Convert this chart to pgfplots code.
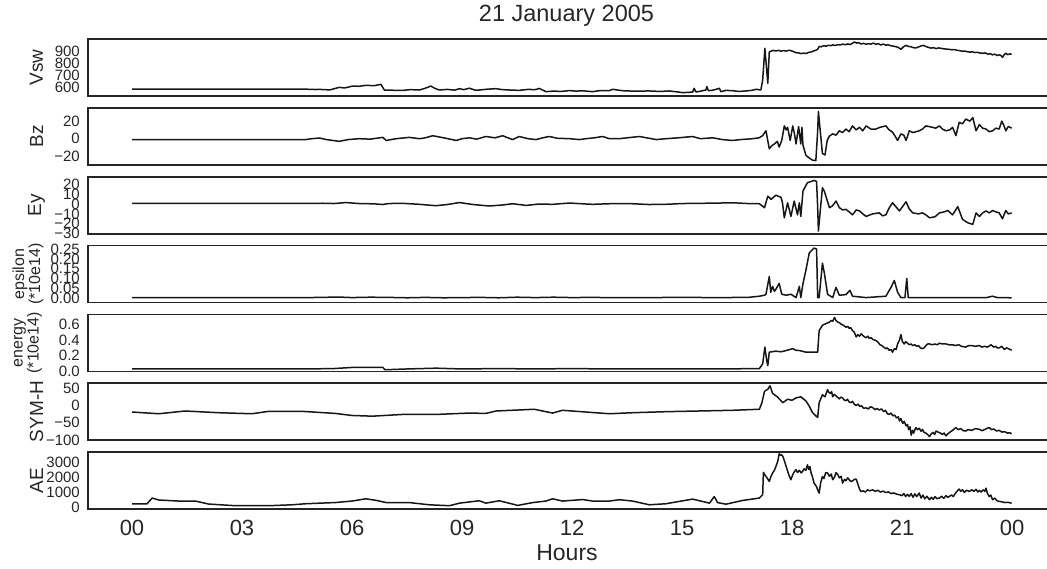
\documentclass[border=0pt]{standalone}
\usepackage{fontspec}
\setmainfont{Liberation Sans}
\usepackage{pgfplots}
\pgfplotsset{compat=1.18}
\definecolor{ink}{RGB}{38,38,38}
\definecolor{linec}{RGB}{22,22,22}

\pgfplotsset{
  panel/.style={
    scale only axis, width=968pt, height=57pt,
    xmin=-1.2, xmax=25.2, anchor=north west,
    axis line style={ink, line width=1.2pt},
    major tick length=0pt, tick style={draw=none},
    xtick={0,3,...,24}, xticklabels={},
    yticklabel style={font=\fontsize{15}{15}\selectfont, text=ink, inner sep=0pt, xshift=-8pt},
  },
  series/.style={linec, line width=1.5pt, line join=round, mark=none},
}

\begin{document}
\begin{tikzpicture}
\path[use as bounding box] (0,0) rectangle (1047pt,-568pt);

\node[text=ink, font=\fontsize{23.5}{23.5}\selectfont] at (566.5pt,-16pt) {21 January 2005};

% Vsw
\begin{axis}[panel, at={(88pt,-39pt)}, ymin=525, ymax=1000,
  ytick={600,700,800,900}, yticklabels={600,700,800,900}]
\addplot[series] coordinates {(0,582) (4.74,582) (5.0,579) (5.11,580) (5.4,576) (5.65,597) (5.8,592) (6.02,608) (6.2,606) (6.38,614) (6.6,611) (6.79,622) (6.88,575) (7.1,573) (7.38,572) (7.6,578) (7.84,575) (8.0,590) (8.15,608) (8.25,590) (8.38,575) (8.6,580) (8.8,574) (8.93,586) (9.05,578) (9.2,590) (9.35,575) (9.47,575) (9.7,582) (9.93,586) (10.1,578) (10.3,575) (10.56,572) (10.8,580) (11.0,578) (11.11,588) (11.29,561) (11.5,566) (11.7,563) (11.93,570) (12.1,566) (12.3,568) (12.56,561) (12.74,569) (13.02,570) (13.11,581) (13.3,572) (13.47,567) (13.8,566) (14.11,567) (14.4,563) (14.65,567) (14.85,560) (15.02,553) (15.2,556) (15.29,558) (15.33,589) (15.38,558) (15.5,565) (15.65,575) (15.68,603) (15.72,569) (15.85,574) (16.02,589) (16.06,561) (16.2,572) (16.38,569) (16.55,563) (16.74,567) (16.9,572) (17.02,581) (17.15,575) (17.2,658) (17.26,922) (17.31,742) (17.34,631) (17.38,892) (17.42,898) (17.49,905) (17.56,900) (17.63,906) (17.7,898) (17.77,904) (17.84,899) (17.91,906) (17.97,903) (18.04,895) (18.11,886) (18.18,884) (18.25,878) (18.31,883) (18.38,879) (18.45,888) (18.52,892) (18.59,900) (18.66,908) (18.7,914) (18.74,938) (18.8,935) (18.86,944) (18.93,940) (19.0,948) (19.06,944) (19.11,951) (19.18,946) (19.25,953) (19.32,950) (19.38,958) (19.45,952) (19.52,959) (19.59,954) (19.65,965) (19.7,975) (19.76,966) (19.82,970) (19.88,958) (19.95,964) (20.02,956) (20.09,962) (20.15,957) (20.22,966) (20.29,955) (20.35,962) (20.42,950) (20.49,958) (20.56,948) (20.62,952) (20.69,944) (20.76,941) (20.83,936) (20.9,930) (20.97,914) (21.04,935) (21.11,947) (21.18,938) (21.25,935) (21.31,928) (21.38,925) (21.45,934) (21.52,942) (21.58,947) (21.65,938) (21.72,930) (21.79,924) (21.86,928) (21.93,920) (22.0,926) (22.07,922) (22.14,918) (22.21,916) (22.29,914) (22.36,910) (22.43,912) (22.5,906) (22.57,903) (22.64,898) (22.71,900) (22.78,894) (22.85,891) (22.92,893) (22.99,887) (23.06,889) (23.13,883) (23.2,881) (23.27,884) (23.34,874) (23.41,877) (23.47,868) (23.53,874) (23.6,862) (23.66,869) (23.72,856) (23.74,847) (23.78,866) (23.83,881) (23.88,870) (23.94,876) (23.99,873)};
\end{axis}

% Bz
\begin{axis}[panel, at={(88pt,-108pt)}, ymin=-30, ymax=35,
  ytick={-20,0,20}, yticklabels={−20,0,20}]
\addplot[series] coordinates {(0,-1) (4.74,-1) (4.9,0) (5.11,0.8) (5.3,-1) (5.65,-3) (5.9,-1) (6.2,0) (6.5,-0.5) (6.84,1.5) (6.93,-2) (7.2,0) (7.56,1.5) (7.84,0) (8.0,1) (8.2,3.4) (8.5,1) (8.84,-2) (9.0,0) (9.2,1) (9.4,-0.5) (9.65,2.5) (9.9,1) (10.11,3.4) (10.25,1) (10.38,-1) (10.56,2.5) (10.8,0) (11.02,-1) (11.2,1) (11.38,2.5) (11.6,0.5) (11.93,0) (12.2,-1) (12.38,0) (12.6,1) (12.84,2.5) (13.02,0) (13.29,0) (13.5,1) (13.84,2.5) (14.1,0.5) (14.3,-1) (14.56,0) (14.9,1) (15.29,2.5) (15.5,0) (15.84,1) (16.1,-1) (16.38,-2) (16.6,-1) (16.93,0) (17.1,1) (17.2,3.5) (17.29,9) (17.38,-11.5) (17.45,-8) (17.52,-6) (17.6,-3) (17.65,-9.5) (17.72,-2) (17.79,14.6) (17.84,10) (17.88,13) (17.95,-2) (18.02,14.6) (18.07,5) (18.11,-6) (18.18,13.8) (18.24,-6) (18.27,13) (18.3,-7.5) (18.38,-19) (18.47,-22) (18.56,-24.5) (18.65,-25) (18.7,9) (18.72,31) (18.77,9) (18.83,-17) (18.9,-18.5) (18.96,-2) (19.02,3) (19.11,5.5) (19.2,4) (19.29,9) (19.38,7) (19.47,11) (19.56,8) (19.65,14.6) (19.75,10) (19.84,13) (19.93,9) (20.02,14.6) (20.15,11) (20.29,11) (20.4,13) (20.56,14.6) (20.65,10) (20.74,7.5) (20.81,3) (20.88,-2) (20.97,5.5) (21.05,4) (21.11,-2) (21.2,9) (21.3,7) (21.47,9) (21.56,11) (21.65,14.6) (21.83,13) (21.92,12) (22.02,14.6) (22.1,11) (22.2,9) (22.3,10) (22.38,13) (22.47,3.5) (22.56,18.6) (22.65,17) (22.74,22.4) (22.85,20) (22.93,24) (23.02,9) (23.11,16) (23.2,12) (23.29,11) (23.38,8) (23.47,9) (23.56,12) (23.65,11) (23.72,20) (23.78,15) (23.83,9) (23.9,14) (23.99,12)};
\end{axis}

% Ey
\begin{axis}[panel, at={(88pt,-177pt)}, ymin=-30.5, ymax=27.5,
  ytick={-30,-20,-10,0,10,20}, yticklabels={−30,−20,−10,0,10,20}]
\addplot[series] coordinates {(0,0.7) (4.74,0.7) (5.2,0.8) (5.5,0.5) (5.84,1.5) (6.2,0.5) (6.6,0.2) (6.84,-0.5) (7.0,0.5) (7.38,0.7) (7.8,-0.2) (8.29,-1.7) (8.6,-0.5) (8.93,1.5) (9.3,-0.5) (9.74,-2) (10.1,-1) (10.38,0.3) (10.75,-1.4) (11.1,0) (11.47,-0.3) (11.93,1) (12.3,0.2) (12.56,-0.3) (13.02,0.3) (13.65,0.3) (14.1,-0.5) (14.56,-0.3) (15.0,0.5) (15.47,0.7) (16.0,1) (16.38,1.3) (16.8,0.5) (17.11,0.3) (17.25,-3.7) (17.34,8) (17.43,4.8) (17.56,9) (17.7,6.8) (17.74,1.3) (17.79,-14) (17.88,1.3) (17.97,-12.6) (18.06,3) (18.15,-11) (18.2,1.3) (18.24,-12.6) (18.3,13.3) (18.42,21.7) (18.6,24) (18.67,23) (18.7,-3.7) (18.72,-27.5) (18.77,-7) (18.83,16.6) (18.88,13.3) (19.02,-3.7) (19.1,-2) (19.2,3) (19.29,-3.7) (19.38,-6) (19.47,-5.4) (19.56,-8) (19.65,-11) (19.75,-6) (19.84,-7) (19.93,-10) (20.02,-12.6) (20.2,-10) (20.38,-9) (20.47,-12) (20.56,-11) (20.65,-4) (20.74,1.3) (20.84,-3) (20.93,-7) (21.11,2.3) (21.2,-5) (21.29,-9) (21.45,-10) (21.56,-9) (21.65,-11) (21.75,-14) (21.9,-13) (22.02,-9) (22.15,-8) (22.25,-6.6) (22.38,-11) (22.52,-2.6) (22.65,-15.6) (22.79,-19) (22.93,-20.7) (23.02,-9) (23.11,-12.6) (23.2,-9) (23.29,-7) (23.38,-9) (23.47,-6.6) (23.56,-8) (23.65,-9) (23.74,-15) (23.83,-6.6) (23.9,-10) (23.99,-9)};
\end{axis}

% epsilon
\begin{axis}[panel, at={(88pt,-245.5pt)}, ymin=-0.022, ymax=0.268,
  ytick={0,0.05,0.1,0.15,0.2,0.25}, yticklabels={0.00,0.05,0.10,0.15,0.20,0.25}]
\addplot[series] coordinates {(0,0.003) (4.74,0.003) (5.2,0.004) (5.6,0.006) (6.0,0.003) (6.5,0.005) (7.0,0.004) (7.5,0.002) (8.0,0.004) (8.5,0.002) (9.0,0.003) (9.5,0.004) (10.0,0.002) (10.5,0.005) (11.0,0.003) (11.5,0.005) (12.0,0.003) (12.5,0.004) (13.0,0.003) (14.0,0.003) (15.0,0.004) (16.0,0.003) (16.8,0.004) (17.11,0.01) (17.25,0.015) (17.29,0.02) (17.38,0.11) (17.42,0.03) (17.47,0.06) (17.52,0.035) (17.56,0.045) (17.65,0.075) (17.72,0.02) (17.84,0.015) (17.97,0.02) (18.11,0.003) (18.2,0.06) (18.24,0.003) (18.3,0.075) (18.38,0.143) (18.47,0.23) (18.6,0.255) (18.67,0.25) (18.7,0.003) (18.74,0.003) (18.83,0.178) (18.88,0.13) (18.97,0.02) (19.11,0.003) (19.2,0.055) (19.29,0.015) (19.47,0.018) (19.58,0.04) (19.65,0.01) (20.02,0.003) (20.56,0.01) (20.7,0.055) (20.79,0.09) (20.88,0.03) (20.97,0.003) (21.08,0.003) (21.13,0.1) (21.17,0.003) (21.84,0.003) (23.3,0.003) (23.47,0.01) (23.6,0.003) (23.99,0.002)};
\end{axis}

% energy
\begin{axis}[panel, at={(88pt,-314.3pt)}, ymin=0, ymax=0.73,
  ytick={0,0.2,0.4,0.6}, yticklabels={0.0,0.2,0.4,0.6}]
\addplot[series] coordinates {(0,0.03) (4.74,0.03) (5.5,0.035) (6.02,0.05) (6.84,0.05) (6.9,0.02) (7.5,0.03) (8.29,0.04) (9,0.03) (10,0.035) (11,0.03) (12,0.035) (13,0.03) (14,0.03) (15,0.03) (16,0.03) (17.11,0.035) (17.2,0.095) (17.26,0.31) (17.31,0.14) (17.34,0.073) (17.38,0.245) (17.56,0.258) (17.7,0.25) (17.84,0.266) (18.02,0.29) (18.1,0.27) (18.2,0.266) (18.38,0.245) (18.7,0.245) (18.74,0.52) (18.83,0.59) (19.02,0.63) (19.07,0.65) (19.11,0.64) (19.16,0.69) (19.2,0.65) (19.25,0.63) (19.3,0.62) (19.35,0.6) (19.4,0.59) (19.47,0.565) (19.52,0.575) (19.56,0.55) (19.6,0.56) (19.65,0.52) (19.7,0.5) (19.75,0.44) (19.8,0.47) (19.84,0.45) (19.89,0.48) (19.93,0.46) (19.98,0.44) (20.02,0.43) (20.07,0.45) (20.11,0.42) (20.16,0.43) (20.2,0.41) (20.25,0.4) (20.29,0.395) (20.35,0.37) (20.4,0.34) (20.45,0.33) (20.5,0.31) (20.56,0.29) (20.6,0.3) (20.65,0.27) (20.7,0.28) (20.74,0.245) (20.79,0.29) (20.84,0.28) (20.88,0.35) (20.93,0.4) (20.97,0.47) (21.01,0.38) (21.06,0.35) (21.1,0.38) (21.15,0.36) (21.2,0.34) (21.25,0.35) (21.29,0.33) (21.35,0.34) (21.4,0.32) (21.45,0.33) (21.5,0.3) (21.56,0.29) (21.6,0.3) (21.65,0.33) (21.7,0.35) (21.75,0.35) (21.82,0.34) (21.9,0.35) (21.96,0.34) (22.02,0.36) (22.1,0.35) (22.2,0.35) (22.28,0.34) (22.38,0.34) (22.45,0.33) (22.55,0.34) (22.62,0.32) (22.74,0.31) (22.82,0.33) (22.9,0.33) (23.0,0.32) (23.11,0.33) (23.18,0.31) (23.25,0.32) (23.33,0.31) (23.43,0.34) (23.5,0.31) (23.55,0.32) (23.6,0.3) (23.65,0.3) (23.72,0.32) (23.79,0.28) (23.85,0.3) (23.9,0.29) (23.99,0.27)};
\end{axis}

% SYM-H
\begin{axis}[panel, at={(88pt,-383pt)}, ymin=-100, ymax=65,
  ytick={-100,-50,0,50}, yticklabels={−100,−50,0,50}]
\addplot[series] coordinates {(0,-19) (0.73,-24) (1.45,-16) (2.36,-21) (3.27,-24) (3.73,-17) (4.64,-17) (5.54,-23) (6.0,-29) (6.56,-31) (7.38,-26) (8.29,-26) (9.2,-22) (9.65,-23) (9.93,-16) (10.56,-13) (10.97,-11) (11.2,-16) (11.47,-22) (11.74,-14) (12.38,-19) (13.02,-24) (13.65,-21) (14.56,-18) (15.47,-16) (16.38,-14) (17.11,-11) (17.18,8) (17.25,41) (17.34,47) (17.4,57) (17.47,35) (17.6,25) (17.75,8) (17.88,18) (18.0,15) (18.11,22) (18.24,25) (18.38,13) (18.47,-2) (18.56,-21) (18.7,-35) (18.74,8) (18.83,31) (18.9,25) (18.97,46) (19.0,38) (19.05,35) (19.08,40) (19.11,25) (19.15,32) (19.2,28) (19.24,24) (19.29,19) (19.33,24) (19.38,22) (19.42,16) (19.47,14) (19.51,18) (19.56,10) (19.6,8) (19.65,12) (19.7,3) (19.75,0) (19.8,4) (19.85,-3) (19.9,-1) (19.95,-8) (20.02,-7) (20.08,-10) (20.14,-4) (20.2,-6) (20.26,-12) (20.32,-9) (20.38,-13) (20.44,-10) (20.5,-18) (20.55,-14) (20.6,-24) (20.65,-26) (20.7,-22) (20.75,-30) (20.8,-28) (20.85,-36) (20.9,-33) (20.93,-45) (20.97,-38) (21.02,-52) (21.06,-46) (21.11,-59) (21.15,-55) (21.18,-70) (21.22,-62) (21.25,-86) (21.29,-72) (21.32,-80) (21.35,-70) (21.38,-64) (21.42,-70) (21.47,-66) (21.52,-75) (21.56,-69) (21.6,-78) (21.65,-80) (21.7,-84) (21.75,-90) (21.8,-82) (21.85,-78) (21.89,-84) (21.93,-74) (22.0,-78) (22.05,-80) (22.1,-84) (22.15,-80) (22.2,-88) (22.25,-82) (22.3,-78) (22.38,-72) (22.47,-64) (22.53,-70) (22.6,-67) (22.67,-73) (22.74,-74) (22.8,-70) (22.9,-72) (23.0,-67) (23.11,-69) (23.18,-73) (23.25,-70) (23.32,-66) (23.38,-64) (23.44,-70) (23.5,-68) (23.58,-74) (23.65,-72) (23.72,-77) (23.8,-76) (23.88,-80) (23.94,-79) (23.99,-82)};
\end{axis}

% AE
\begin{axis}[panel, at={(88pt,-452pt)}, ymin=-130, ymax=3670,
  ytick={0,1000,2000,3000}, yticklabels={0,1000,2000,3000},
  xticklabels={00,03,06,09,12,15,18,21,00},
  xticklabel style={font=\fontsize{22}{22}\selectfont, text=ink, inner sep=0pt, yshift=-11pt}]
\addplot[series] coordinates {(0,220) (0.41,220) (0.55,600) (0.73,470) (1.27,400) (1.73,400) (2.09,200) (2.82,90) (3.73,90) (4.36,150) (4.73,220) (5.54,300) (6.0,400) (6.38,550) (6.65,450) (6.93,300) (7.56,300) (8.11,150) (8.66,90) (8.93,260) (9.47,420) (9.65,260) (10.02,420) (10.52,110) (10.93,300) (11.29,400) (11.47,550) (11.74,400) (12.29,500) (12.56,400) (13.02,400) (13.29,490) (13.65,400) (14.11,150) (14.56,220) (15.29,530) (15.75,260) (15.88,700) (15.97,300) (16.2,190) (16.65,440) (17.11,600) (17.2,820) (17.22,2310) (17.26,2150) (17.29,2040) (17.33,1900) (17.38,1710) (17.42,2000) (17.47,2270) (17.52,2450) (17.56,2700) (17.61,3040) (17.65,3550) (17.69,3450) (17.72,3480) (17.75,3380) (17.79,3100) (17.84,2710) (17.88,2400) (17.92,2100) (17.97,1820) (18.01,2100) (18.06,2350) (18.11,2490) (18.15,2300) (18.2,2450) (18.25,2280) (18.29,2380) (18.33,2550) (18.38,2450) (18.42,2820) (18.46,2500) (18.49,2700) (18.52,2270) (18.56,2000) (18.6,1600) (18.66,1400) (18.71,1100) (18.74,930) (18.78,1600) (18.83,2040) (18.87,1900) (18.92,2300) (18.97,2270) (19.02,2050) (19.07,2200) (19.11,1820) (19.16,2000) (19.2,2300) (19.25,2160) (19.29,1950) (19.34,2050) (19.38,1600) (19.43,1850) (19.47,1750) (19.52,1950) (19.56,1820) (19.61,1700) (19.66,1760) (19.7,1850) (19.75,1860) (19.8,1500) (19.84,1200) (19.88,1040) (19.94,1080) (20.0,1000) (20.06,1150) (20.12,1080) (20.2,1150) (20.27,1050) (20.34,1120) (20.41,1000) (20.48,1060) (20.56,970) (20.63,1010) (20.7,900) (20.78,940) (20.85,860) (20.93,820) (21.0,760) (21.05,900) (21.1,700) (21.15,850) (21.2,710) (21.25,900) (21.3,650) (21.35,880) (21.4,700) (21.47,930) (21.52,600) (21.57,800) (21.62,550) (21.68,720) (21.75,490) (21.8,650) (21.85,520) (21.9,700) (21.95,560) (22.02,600) (22.08,720) (22.14,580) (22.2,760) (22.25,650) (22.29,710) (22.35,800) (22.4,700) (22.45,900) (22.5,1050) (22.56,1200) (22.6,1050) (22.65,1150) (22.7,980) (22.76,1120) (22.84,1040) (22.9,1150) (22.96,1050) (23.02,1180) (23.07,1000) (23.11,1110) (23.16,1000) (23.21,1150) (23.26,1050) (23.29,1260) (23.33,900) (23.38,700) (23.42,800) (23.47,490) (23.53,600) (23.59,420) (23.65,380) (23.72,350) (23.8,300) (23.88,320) (23.99,260)};
\end{axis}

% y labels
\begin{scope}[text=ink]
\node[rotate=90, font=\fontsize{19}{19}\selectfont] at (36.5pt,-67.5pt) {Vsw};
\node[rotate=90, font=\fontsize{19}{19}\selectfont] at (36.5pt,-136.5pt) {Bz};
\node[rotate=90, font=\fontsize{19}{19}\selectfont] at (36.5pt,-205.5pt) {Ey};
\node[rotate=90, align=center, font=\fontsize{16}{16}\selectfont] at (28pt,-274pt) {epsilon\\(*10e14)};
\node[rotate=90, align=center, font=\fontsize{16}{16}\selectfont] at (28pt,-342.8pt) {energy\\(*10e14)};
\node[rotate=90, font=\fontsize{19}{19}\selectfont] at (36.5pt,-411.5pt) {SYM-H};
\node[rotate=90, font=\fontsize{19}{19}\selectfont] at (36.5pt,-480.5pt) {AE};
\node[font=\fontsize{23}{23}\selectfont] at (567pt,-553pt) {Hours};
\end{scope}
\end{tikzpicture}
\end{document}
